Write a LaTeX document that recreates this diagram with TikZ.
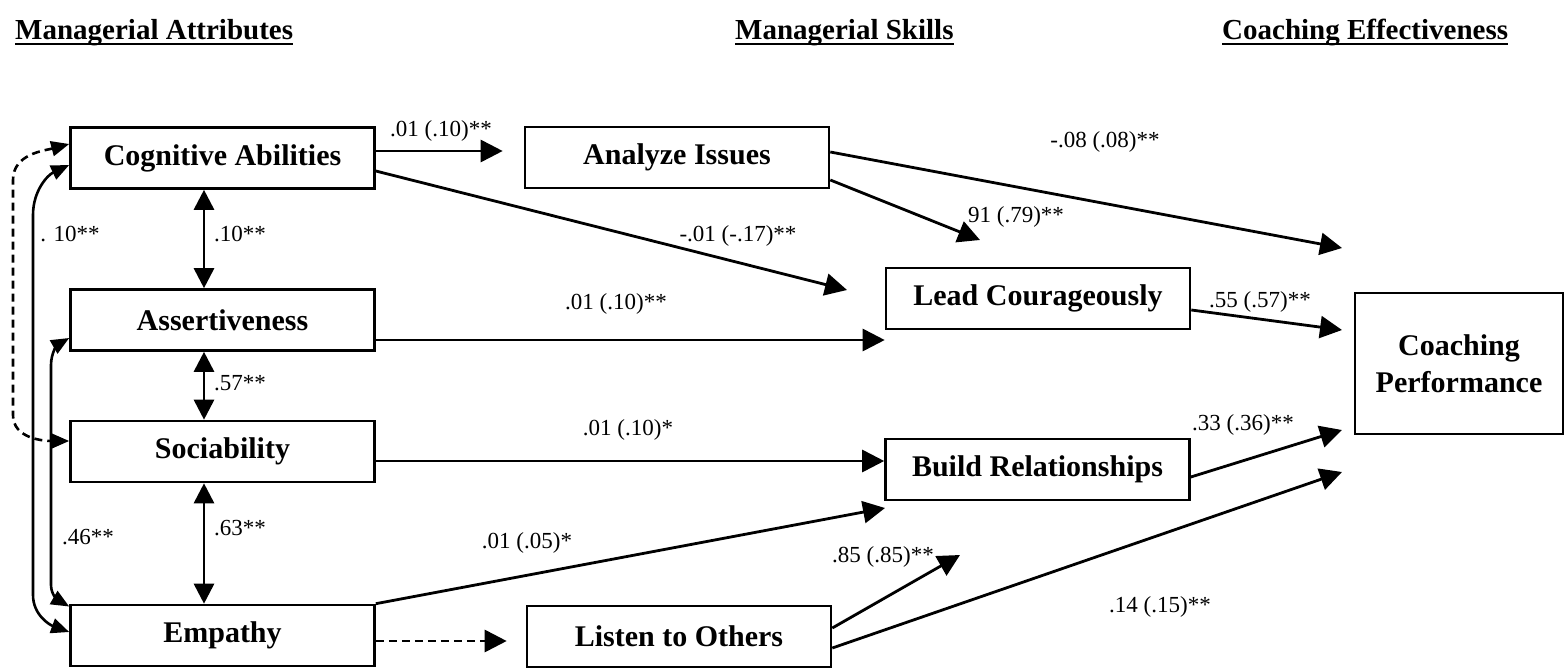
\documentclass[tikz,border=0pt]{standalone}
\usepackage{fontspec}
\setmainfont{Liberation Serif}
\usetikzlibrary{arrows.meta,calc}
\begin{document}
\begin{tikzpicture}[x=1pt,y=1pt,
  box/.style={draw, line width=2.6pt, minimum width=304pt, minimum height=61pt,
    inner sep=0pt, font=\fontsize{30}{35}\selectfont\bfseries},
  lbl/.style={inner sep=0pt, font=\fontsize{23}{27}\selectfont},
  head/.style={inner sep=0pt, anchor=base west, font=\fontsize{29}{34}\selectfont\bfseries},
  arr/.style={line width=2.8pt, -{Triangle[length=22pt,width=22pt]}},
  dblarr/.style={line width=2.8pt, {Triangle[length=20pt,width=20pt]}-{Triangle[length=20pt,width=20pt]}},
  corr/.style={line width=2.6pt, {Triangle[length=18pt,width=15pt]}-{Triangle[length=18pt,width=15pt]}},
  dashline/.style={dash pattern=on 8pt off 5pt},
]
\useasboundingbox (0,0) rectangle (1566,-669);

% column headings
\node[head] (h1) at (15,-40) {Managerial Attributes};
\node[head] (h2) at (735,-40) {Managerial Skills};
\node[head] (h3) at (1222,-40) {Coaching Effectiveness};
\foreach \h in {h1,h2,h3}
  \draw[line width=2.5pt] ([yshift=-4pt]\h.base west) -- ([yshift=-4pt]\h.base east);

% attributes
\node[box] (cog) at (222.5,-158) {Cognitive Abilities};
\node[box] (ass) at (222.5,-320) {Assertiveness};
\node[box] (soc) at (222.5,-451.5) {Sociability};
\node[box] (emp) at (222.5,-635.5) {Empathy};

% skills
\node[box] (ana) at (677,-157.5) {Analyze Issues};
\node[box] (lis) at (679,-636.5) {Listen to Others};
\node[box] (lea) at (1038,-298.5) {Lead Courageously};
\node[box] (bui) at (1037.5,-469.5) {Build Relationships};

% outcome
\node[box, minimum width=208pt, minimum height=141pt, align=center,
  font=\fontsize{30}{37}\selectfont\bfseries] (coa) at (1459,-363.5) {Coaching\\Performance};

% free arrow tips
\coordinate (tCL) at (847,-290);
\coordinate (tAL) at (980,-240);
\coordinate (tAC) at (1342,-248);
\coordinate (tLC) at (1342,-330);
\coordinate (tBC) at (1342,-430);
\coordinate (tSC) at (1342,-472);
\coordinate (tEB) at (885,-508);
\coordinate (tLB) at (960,-555);

% paths
\draw[arr, shorten >=21pt] ([yshift=7pt]cog.east) -- ([yshift=7pt]cog.east -| ana.west);
\draw[arr] ([yshift=-13pt]cog.east) -- (tCL);
\draw[arr] ([yshift=-22.5pt]ana.east) -- (tAL);
\draw[arr] ([yshift=5.5pt]ana.east) -- (tAC);
\draw[arr] ([yshift=-20pt]ass.east) -- ([yshift=-20pt]ass.east -| lea.west);
\draw[arr] ([yshift=-9.5pt]soc.east) -- ([yshift=-9.5pt]soc.east -| bui.west);
\draw[arr] (emp.north east) -- (tEB);
\draw[arr, dashline, shorten >=19pt] ([yshift=-5.5pt]emp.east) -- ([yshift=-5.5pt]emp.east -| lis.west);
\draw[arr] ([yshift=8.5pt]lis.east) -- (tLB);
\draw[arr] ([yshift=-11.5pt]lis.east) -- (tSC);
\draw[arr] ([yshift=-11.5pt]lea.east) -- (tLC);
\draw[arr] ([yshift=-7.5pt]bui.east) -- (tBC);

% correlations between attributes
\draw[dblarr] ([xshift=-18.5pt]cog.south) -- ([xshift=-18.5pt]ass.north);
\draw[dblarr] ([xshift=-18.5pt]ass.south) -- ([xshift=-18.5pt]soc.north);
\draw[dblarr] ([xshift=-18.5pt]soc.south) -- ([xshift=-18.5pt]emp.north);
\draw[corr, dashline] ([yshift=14pt]cog.west) to[out=195,in=90] (13,-180) -- (13,-415)
  to[out=-90,in=180] ([yshift=10.5pt]soc.west);
\draw[corr] ([yshift=-7pt]cog.west) to[out=205,in=90] (33,-215) -- (33,-595)
  to[out=-90,in=160] ([yshift=3.5pt]emp.west);
\draw[corr] ([yshift=-18pt]ass.west) to[out=210,in=90] (51,-365) -- (51,-585)
  to[out=-90,in=150] ([yshift=29pt]emp.west);

% coefficients
\node[lbl] (lCA) at (441,-131) {.01 (.10)**};
\node[lbl] (lCL) at (738,-236) {-.01 (-.17)**};
\node[lbl] (lAL) at (1016,-217) {91 (.79)**};
\node[lbl] (lAC) at (1105,-142) {-.08 (.08)**};
\node[lbl] (lAsL) at (616,-304) {.01 (.10)**};
\node[lbl] (lLC) at (1260,-302) {.55 (.57)**};
\node[lbl] (lSB) at (628,-430) {.01 (.10)*};
\node[lbl] (lBC) at (1243,-425) {.33 (.36)**};
\node[lbl] (lEB) at (527,-543) {.01 (.05)*};
\node[lbl] (lLB) at (883,-557) {.85 (.85)**};
\node[lbl] (lLCo) at (1160,-607) {.14 (.15)**};
\node[lbl] (r1) at (240,-234) {.10**};
\node[lbl] (r2) at (240,-383) {.57**};
\node[lbl] (r3) at (240,-528) {.63**};
\node[lbl] (r4) at (70,-234) {. 10**};
\node[lbl] (r5) at (88,-537) {.46**};
\end{tikzpicture}
\end{document}
